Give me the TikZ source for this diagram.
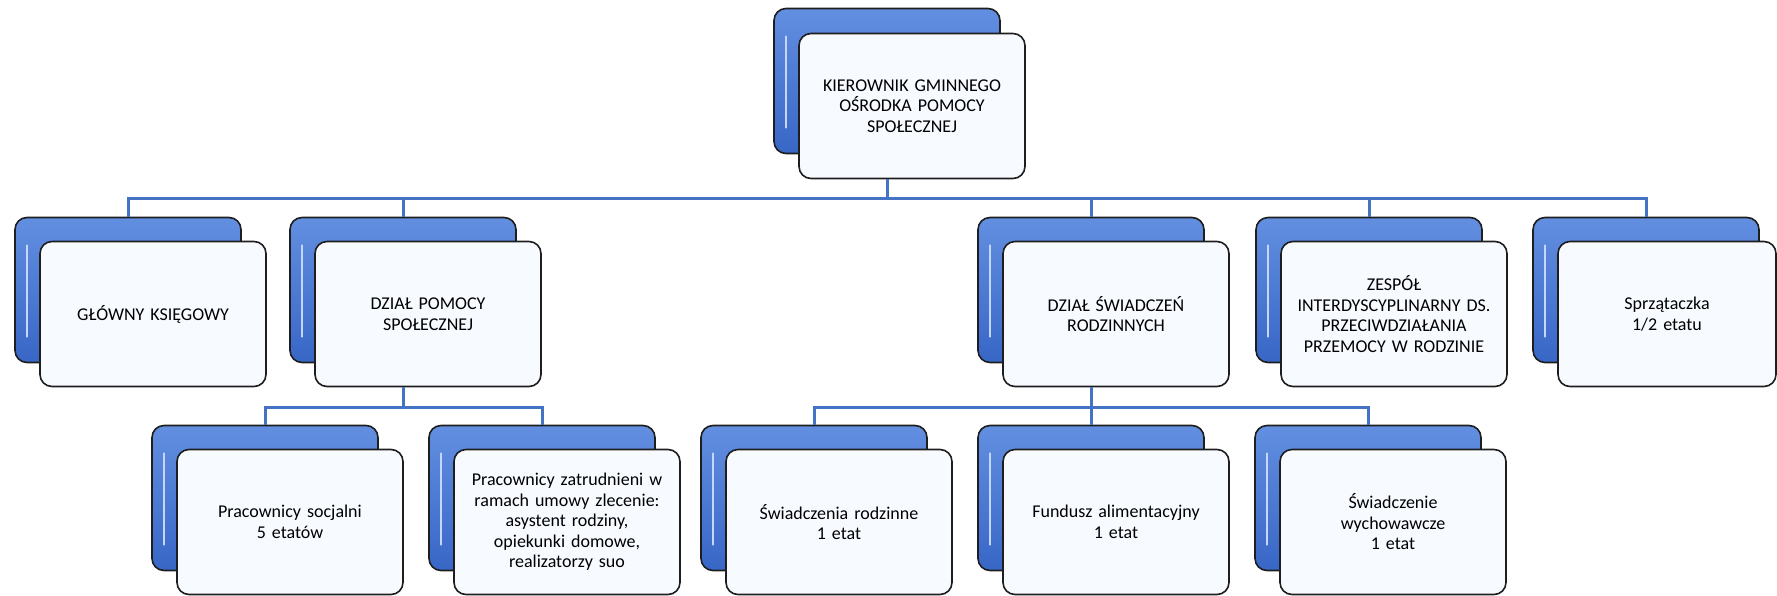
\documentclass[tikz,border=0pt]{standalone}
\usepackage{fontspec}
\setmainfont{Carlito}
\usepackage{xcolor}
\usepackage{tikz}
\usetikzlibrary{calc, positioning}
\definecolor{boxblue}{RGB}{56, 102, 198}
\definecolor{boxlight}{RGB}{98, 143, 224}
\definecolor{stripelight}{RGB}{196, 215, 248}
\definecolor{linkblue}{RGB}{68, 114, 196}
\definecolor{frontfill}{RGB}{247, 250, 255}
\definecolor{edgegray}{RGB}{30, 30, 30}

\begin{document}
\begin{tikzpicture}[
    x=1pt, y=1pt,
    stripe/.style={stripelight, line width=2.5pt, line cap=round},
    backbox/.style={rectangle, rounded corners=12pt, draw=edgegray, line width=1.6pt,
                    minimum width=226pt, minimum height=145pt,
                    top color=boxlight, bottom color=boxblue,
                    path picture={
                      \draw[stripe] ([shift={(12pt,-28pt)}]path picture bounding box.north west)
                        -- ([shift={(12pt,26pt)}]path picture bounding box.south west);
                      \draw[stripe] ([shift={(-12pt,-28pt)}]path picture bounding box.north east)
                        -- ([shift={(-12pt,26pt)}]path picture bounding box.south east);
                    }},
    frontbox/.style={rectangle, rounded corners=12pt, draw=edgegray, line width=1.6pt,
                     minimum width=226pt, minimum height=145pt, fill=frontfill,
                     align=center, text width=208pt, font=\fontsize{18}{20.5}\selectfont},
    link/.style={draw=linkblue, line width=3pt}
]
    \useasboundingbox (0,0) rectangle (1777,-595);

    % Head of the centre
    \node[backbox] (kier-b) at (887,-81) {};
    \node[frontbox] (kier) at ($(kier-b)+(25,-25)$) {KIEROWNIK GMINNEGO\\OŚRODKA POMOCY\\SPOŁECZNEJ};

    % Second level
    \node[backbox] (gk-b) at (128,-290) {};
    \node[frontbox] (gk) at ($(gk-b)+(25,-24)$) {GŁÓWNY KSIĘGOWY};
    \node[backbox] (dps-b) at (403,-290) {};
    \node[frontbox] (dps) at ($(dps-b)+(25,-24)$) {DZIAŁ POMOCY\\SPOŁECZNEJ};
    \node[backbox] (dsr-b) at (1091,-290) {};
    \node[frontbox] (dsr) at ($(dsr-b)+(25,-24)$) {DZIAŁ ŚWIADCZEŃ\\RODZINNYCH};
    \node[backbox] (zesp-b) at (1369,-290) {};
    \node[frontbox] (zesp) at ($(zesp-b)+(25,-24)$) {ZESPÓŁ\\INTERDYSCYPLINARNY DS.\\PRZECIWDZIAŁANIA\\PRZEMOCY W RODZINIE};
    \node[backbox] (sprz-b) at (1646,-290) {};
    \node[frontbox, minimum width=218pt, text width=200pt] (sprz) at ($(sprz-b)+(21,-24)$) {Sprzątaczka\\1/2 etatu};

    % Third level
    \node[backbox] (socj-b) at (265,-498) {};
    \node[frontbox] (socj) at ($(socj-b)+(25,-24)$) {Pracownicy socjalni\\5 etatów};
    \node[backbox] (zlec-b) at (542,-498) {};
    \node[frontbox] (zlec) at ($(zlec-b)+(25,-24)$) {Pracownicy zatrudnieni w\\ramach umowy zlecenie:\\asystent rodziny,\\opiekunki domowe,\\realizatorzy suo};
    \node[backbox] (swr-b) at (814,-498) {};
    \node[frontbox] (swr) at ($(swr-b)+(25,-24)$) {Świadczenia rodzinne\\1 etat};
    \node[backbox] (fund-b) at (1091,-498) {};
    \node[frontbox] (fund) at ($(fund-b)+(25,-24)$) {Fundusz alimentacyjny\\1 etat};
    \node[backbox] (wych-b) at (1368,-498) {};
    \node[frontbox] (wych) at ($(wych-b)+(25,-24)$) {Świadczenie\\wychowawcze\\1 etat};

    % Connectors
    \coordinate (bus1) at (887,-198);
    \coordinate (bus2) at (403,-407);
    \coordinate (bus3) at (1091,-407);
    \draw[link] (kier.south -| kier-b) -- (bus1);
    \foreach \n in {gk, dps, dsr, zesp, sprz}
        \draw[link] (bus1) -| (\n-b.north);
    \draw[link] (dps.south -| dps-b) -- (bus2);
    \foreach \n in {socj, zlec}
        \draw[link] (bus2) -| (\n-b.north);
    \draw[link] (dsr.south -| dsr-b) -- (bus3);
    \foreach \n in {swr, fund, wych}
        \draw[link] (bus3) -| (\n-b.north);
\end{tikzpicture}
\end{document}
